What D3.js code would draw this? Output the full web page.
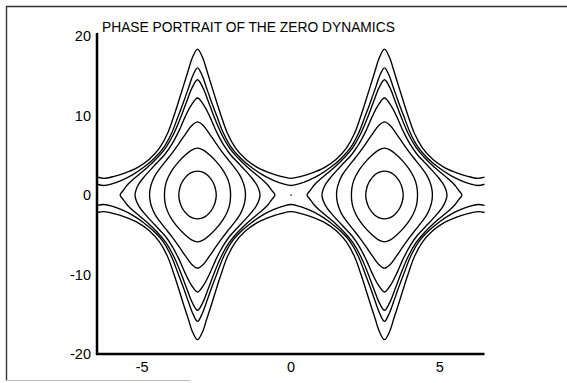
<!DOCTYPE html>
<html>
<head>
<meta charset="utf-8">
<script src="https://cdn.jsdelivr.net/npm/d3@7"></script>
<style>
  html, body { margin: 0; padding: 0; background: #fff; }
  svg { display: block; font-family: "Liberation Sans", Arial, sans-serif; }
</style>
</head>
<body>
<svg id="chart" width="567" height="383"></svg>
<script>
// chart text and ticks
const title = "PHASE PORTRAIT OF THE ZERO DYNAMICS";
const xTicks = [-5, 0, 5];
const yTicks = [-20, -10, 0, 10, 20];

// the two centres of the closed orbits
const orbitCenters = [-3.14, 3.14];

// closed orbits, as [dx, y] around a centre
const orbitG = [[0.63,0],[0.59,0.95],[0.52,1.6],[0.42,2.15],[0.3,2.6],[0.15,2.9],[0,3.0],[-0.15,2.9],[-0.3,2.6],[-0.42,2.15],[-0.52,1.6],[-0.59,0.95],
                [-0.63,0],[-0.59,-0.95],[-0.52,-1.6],[-0.42,-2.15],[-0.3,-2.6],[-0.15,-2.9],[0,-3.0],[0.15,-2.9],[0.3,-2.6],[0.42,-2.15],[0.52,-1.6],[0.59,-0.95]];
const orbitF = [[1.11,0],[1.1,0.7],[1.06,1.5],[0.97,2.35],[0.83,3.25],[0.63,4.2],[0.42,5.0],[0.2,5.65],[0,5.9],[-0.2,5.65],[-0.42,5.0],[-0.63,4.2],[-0.83,3.25],[-0.97,2.35],[-1.06,1.5],[-1.1,0.7],
                [-1.11,0],[-1.1,-0.7],[-1.06,-1.5],[-0.97,-2.35],[-0.83,-3.25],[-0.63,-4.2],[-0.42,-5.0],[-0.2,-5.65],[0,-5.9],[0.2,-5.65],[0.42,-5.0],[0.63,-4.2],[0.83,-3.25],[0.97,-2.35],[1.06,-1.5],[1.1,-0.7]];
const orbitE = [[1.61,0],[1.59,0.8],[1.53,1.6],[1.42,2.5],[1.26,3.35],[1.06,4.3],[0.85,5.3],[0.62,6.5],[0.4,7.7],[0.2,8.7],[0,9.2],[-0.2,8.7],[-0.4,7.7],[-0.62,6.5],[-0.85,5.3],[-1.06,4.3],[-1.26,3.35],[-1.42,2.5],[-1.53,1.6],[-1.59,0.8],
                [-1.61,0],[-1.59,-0.8],[-1.53,-1.6],[-1.42,-2.5],[-1.26,-3.35],[-1.06,-4.3],[-0.85,-5.3],[-0.62,-6.5],[-0.4,-7.7],[-0.2,-8.7],[0,-9.2],[0.2,-8.7],[0.4,-7.7],[0.62,-6.5],[0.85,-5.3],[1.06,-4.3],[1.26,-3.35],[1.42,-2.5],[1.53,-1.6],[1.59,-0.8]];
const orbitD = [[2.1,0],[2.06,0.7],[1.96,1.45],[1.8,2.25],[1.6,3.1],[1.36,4.05],[1.1,5.1],[0.86,6.4],[0.62,8.1],[0.42,9.8],[0.21,11.3],[0,12.2],[-0.21,11.3],[-0.42,9.8],[-0.62,8.1],[-0.86,6.4],[-1.1,5.1],[-1.36,4.05],[-1.6,3.1],[-1.8,2.25],[-1.96,1.45],[-2.06,0.7],
                [-2.1,0],[-2.06,-0.7],[-1.96,-1.45],[-1.8,-2.25],[-1.6,-3.1],[-1.36,-4.05],[-1.1,-5.1],[-0.86,-6.4],[-0.62,-8.1],[-0.42,-9.8],[-0.21,-11.3],[0,-12.2],[0.21,-11.3],[0.42,-9.8],[0.62,-8.1],[0.86,-6.4],[1.1,-5.1],[1.36,-4.05],[1.6,-3.1],[1.8,-2.25],[1.96,-1.45],[2.06,-0.7]];
const orbitC = [[2.6,0],[2.5,0.55],[2.36,1.25],[2.17,1.95],[1.93,2.7],[1.66,3.55],[1.36,4.65],[1.06,6.0],[0.8,7.7],[0.56,9.8],[0.36,11.8],[0.18,13.5],[0,14.5],[-0.18,13.5],[-0.36,11.8],[-0.56,9.8],[-0.8,7.7],[-1.06,6.0],[-1.36,4.65],[-1.66,3.55],[-1.93,2.7],[-2.17,1.95],[-2.36,1.25],[-2.5,0.55],
                [-2.6,0],[-2.5,-0.55],[-2.36,-1.25],[-2.17,-1.95],[-1.93,-2.7],[-1.66,-3.55],[-1.36,-4.65],[-1.06,-6.0],[-0.8,-7.7],[-0.56,-9.8],[-0.36,-11.8],[-0.18,-13.5],[0,-14.5],[0.18,-13.5],[0.36,-11.8],[0.56,-9.8],[0.8,-7.7],[1.06,-6.0],[1.36,-4.65],[1.66,-3.55],[1.93,-2.7],[2.17,-1.95],[2.36,-1.25],[2.5,-0.55]];
const orbits = [orbitG, orbitF, orbitE, orbitD, orbitC];

// open trajectories, as [x, y]
const openAUpper = [[-6.5,2.25],[-6.28,2.1],[-5.94,2.35],[-5.59,2.75],[-5.16,3.45],[-4.76,4.5],[-4.42,5.9],[-4.14,7.8],[-3.92,10.1],[-3.74,12.2],[-3.59,14.0],[-3.45,15.7],[-3.31,17.3],[-3.14,18.35],
  [-2.97,17.3],[-2.83,15.7],[-2.69,14.0],[-2.54,12.2],[-2.36,10.1],[-2.14,7.8],[-1.86,5.9],[-1.52,4.5],[-1.12,3.45],[-0.69,2.75],[-0.34,2.35],[0,2.1],
  [0.34,2.35],[0.69,2.75],[1.12,3.45],[1.52,4.5],[1.86,5.9],[2.14,7.8],[2.36,10.1],[2.54,12.2],[2.69,14.0],[2.83,15.7],[2.97,17.3],[3.14,18.35],
  [3.31,17.3],[3.45,15.7],[3.59,14.0],[3.74,12.2],[3.92,10.1],[4.14,7.8],[4.42,5.9],[4.76,4.5],[5.16,3.45],[5.59,2.75],[5.94,2.35],[6.28,2.1],[6.5,2.25]];
const openBUpper = [[-6.5,1.35],[-6.28,1.2],[-6.02,1.4],[-5.69,1.85],[-5.34,2.5],[-4.96,3.45],[-4.6,4.6],[-4.28,5.95],[-4.02,7.7],[-3.8,9.8],[-3.6,11.8],[-3.44,13.5],[-3.3,15.0],[-3.14,16.0],
  [-2.98,15.0],[-2.84,13.5],[-2.68,11.8],[-2.48,9.8],[-2.26,7.7],[-2.0,5.95],[-1.68,4.6],[-1.32,3.45],[-0.94,2.5],[-0.59,1.85],[-0.26,1.4],[0,1.2],
  [0.26,1.4],[0.59,1.85],[0.94,2.5],[1.32,3.45],[1.68,4.6],[2.0,5.95],[2.26,7.7],[2.48,9.8],[2.68,11.8],[2.84,13.5],[2.98,15.0],[3.14,16.0],
  [3.3,15.0],[3.44,13.5],[3.6,11.8],[3.8,9.8],[4.02,7.7],[4.28,5.95],[4.6,4.6],[4.96,3.45],[5.34,2.5],[5.69,1.85],[6.02,1.4],[6.28,1.2],[6.5,1.35]];
const openALower = [[-6.5,-2.2],[-6.28,-2.1],[-5.94,-2.35],[-5.59,-2.75],[-5.16,-3.45],[-4.76,-4.5],[-4.42,-5.9],[-4.14,-7.8],[-3.92,-10.1],[-3.74,-12.2],[-3.59,-14.0],[-3.45,-15.6],[-3.31,-17.2],[-3.14,-18.2],
  [-2.97,-17.2],[-2.83,-15.6],[-2.69,-14.0],[-2.54,-12.2],[-2.36,-10.1],[-2.14,-7.8],[-1.86,-5.9],[-1.52,-4.5],[-1.12,-3.45],[-0.69,-2.75],[-0.34,-2.35],[0,-2.1],
  [0.34,-2.35],[0.69,-2.75],[1.12,-3.45],[1.52,-4.5],[1.86,-5.9],[2.14,-7.8],[2.36,-10.1],[2.54,-12.2],[2.69,-14.0],[2.83,-15.6],[2.97,-17.2],[3.14,-18.2],
  [3.31,-17.2],[3.45,-15.6],[3.59,-14.0],[3.74,-12.2],[3.92,-10.1],[4.14,-7.8],[4.42,-5.9],[4.76,-4.5],[5.16,-3.45],[5.59,-2.75],[5.94,-2.35],[6.28,-2.1],[6.5,-2.2]];
const openBLower = [[-6.5,-1.3],[-6.28,-1.2],[-6.02,-1.4],[-5.69,-1.85],[-5.34,-2.5],[-4.96,-3.45],[-4.6,-4.6],[-4.28,-5.95],[-4.02,-7.7],[-3.8,-9.8],[-3.6,-11.8],[-3.44,-13.5],[-3.3,-14.9],[-3.14,-15.9],
  [-2.98,-14.9],[-2.84,-13.5],[-2.68,-11.8],[-2.48,-9.8],[-2.26,-7.7],[-2.0,-5.95],[-1.68,-4.6],[-1.32,-3.45],[-0.94,-2.5],[-0.59,-1.85],[-0.26,-1.4],[0,-1.2],
  [0.26,-1.4],[0.59,-1.85],[0.94,-2.5],[1.32,-3.45],[1.68,-4.6],[2.0,-5.95],[2.26,-7.7],[2.48,-9.8],[2.68,-11.8],[2.84,-13.5],[2.98,-14.9],[3.14,-15.9],
  [3.3,-14.9],[3.44,-13.5],[3.6,-11.8],[3.8,-9.8],[4.02,-7.7],[4.28,-5.95],[4.6,-4.6],[4.96,-3.45],[5.34,-2.5],[5.69,-1.85],[6.02,-1.4],[6.28,-1.2],[6.5,-1.3]];
const openCurves = [openAUpper, openBUpper, openALower, openBLower];

const svg = d3.select('#chart');

// scales
const x = d3.scaleLinear().domain([-6.5, 6.5]).range([97.5, 484.5]);
const y = d3.scaleLinear().domain([-20, 20]).range([354, 36]);

// outer frame (left, top, faint bottom piece from the scan)
svg.append('line').attr('x1', 6.5).attr('x2', 6.5).attr('y1', 6).attr('y2', 381)
    .attr('stroke', '#333').attr('stroke-width', 1.4);
svg.append('line').attr('x1', 6).attr('x2', 567).attr('y1', 6.5).attr('y2', 6.5)
    .attr('stroke', '#333').attr('stroke-width', 1.4);
svg.append('line').attr('x1', 6).attr('x2', 190).attr('y1', 380.5).attr('y2', 380.5)
    .attr('stroke', '#bbb').attr('stroke-width', 1);

// axes: plain thick lines, no tick marks
svg.append('line').attr('x1', x(-6.5) - 0.5).attr('x2', x(-6.5) - 0.5).attr('y1', 33).attr('y2', y(-20) + 1)
    .attr('stroke', '#000').attr('stroke-width', 2.5);
svg.append('line').attr('x1', x(-6.5) - 1.5).attr('x2', x(6.5)).attr('y1', y(-20)).attr('y2', y(-20))
    .attr('stroke', '#000').attr('stroke-width', 2.5);

svg.append('g').selectAll('text')
    .data(yTicks)
    .enter().append('text')
    .attr('x', 91)
    .attr('y', d => y(d))
    .attr('dy', '0.36em')
    .attr('text-anchor', 'end')
    .attr('font-size', 14.5)
    .text(d => d);

svg.append('g').selectAll('text')
    .data(xTicks)
    .enter().append('text')
    .attr('x', d => x(d))
    .attr('y', 372)
    .attr('text-anchor', 'middle')
    .attr('font-size', 14.5)
    .text(d => d);

svg.append('text')
    .attr('x', 102)
    .attr('y', 32)
    .attr('font-size', 13.8)
    .text(title);

// trajectories
const line = d3.line().x(d => x(d[0])).y(d => y(d[1])).curve(d3.curveCatmullRom);
const loop = d3.line().curve(d3.curveCatmullRomClosed);

const curves = svg.append('g')
    .attr('fill', 'none')
    .attr('stroke', '#000')
    .attr('stroke-width', 1.35);

curves.selectAll('path.open')
    .data(openCurves)
    .enter().append('path')
    .attr('class', 'open')
    .attr('d', line);

orbitCenters.forEach(c => {
    curves.selectAll(null)
        .data(orbits)
        .enter().append('path')
        .attr('d', o => loop.x(d => x(c + d[0])).y(d => y(d[1]))(o));
});

// the saddle point dot
svg.append('circle').attr('cx', x(0)).attr('cy', y(0)).attr('r', 0.8).attr('fill', '#000');
</script>
</body>
</html>
